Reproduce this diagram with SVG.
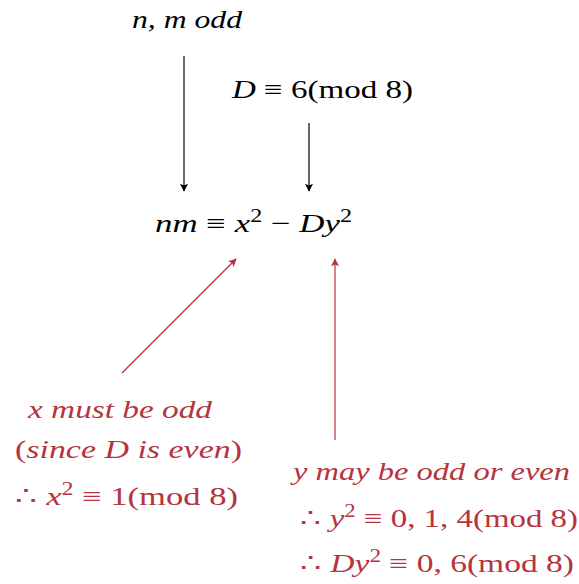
<svg xmlns="http://www.w3.org/2000/svg" width="579" height="584" viewBox="0 0 579 584">
<style>
text{font-family:"Liberation Serif","DejaVu Serif",serif;font-size:26px;}
.k{fill:#000;}
.r{fill:#b5343e;}
.i{font-style:italic;}
.sup{font-size:18px;}
.ck{stroke:#000;stroke-width:1.2;fill:none;}
.cr{stroke:#b5343e;stroke-width:1.2;fill:none;}
</style>
<defs>
<marker id="ak" viewBox="0 0 10 10" refX="9" refY="5" markerWidth="8" markerHeight="8" markerUnits="userSpaceOnUse" orient="auto"><path d="M0,0 L10,5 L0,10 L2,5 Z" fill="#000"/></marker>
<marker id="ar" viewBox="0 0 10 10" refX="9" refY="5" markerWidth="8" markerHeight="8" markerUnits="userSpaceOnUse" orient="auto"><path d="M0,0 L10,5 L0,10 L2,5 Z" fill="#b5343e"/></marker>
</defs>
<g id="connectors">
<line class="ck" x1="184" y1="56" x2="184" y2="191" marker-end="url(#ak)"/>
<line class="ck" x1="309" y1="123" x2="309" y2="191" marker-end="url(#ak)"/>
<line class="cr" x1="122" y1="373" x2="236" y2="259" marker-end="url(#ar)"/>
<line class="cr" x1="335" y1="440" x2="335" y2="259" marker-end="url(#ar)"/>
</g>
<g id="n1"><text class="k i" x="132" y="28" textLength="110" lengthAdjust="spacingAndGlyphs">n, m odd</text></g>
<g id="n2"><text class="k" x="232" y="98" textLength="181" lengthAdjust="spacingAndGlyphs"><tspan class="i">D</tspan> ≡ 6(mod 8)</text></g>
<g id="n3"><text class="k" x="155" y="232" textLength="197" lengthAdjust="spacingAndGlyphs"><tspan class="i">nm</tspan> ≡ <tspan class="i">x</tspan><tspan class="sup" dy="-10">2</tspan><tspan dy="10"> − </tspan><tspan class="i">Dy</tspan><tspan class="sup" dy="-10">2</tspan></text></g>
<g id="n4">
<text class="r i" x="28" y="418" textLength="184" lengthAdjust="spacingAndGlyphs">x must be odd</text>
<text class="r" x="15" y="458" textLength="227" lengthAdjust="spacingAndGlyphs">(<tspan class="i">since D is even</tspan>)</text>
<text class="r" x="15" y="505" textLength="223" lengthAdjust="spacingAndGlyphs">∴  <tspan class="i">x</tspan><tspan class="sup" dy="-10">2</tspan><tspan dy="10"> ≡ 1(mod 8)</tspan></text>
</g>
<g id="n5">
<text class="r i" x="293" y="480" textLength="277" lengthAdjust="spacingAndGlyphs">y may be odd or even</text>
<text class="r" x="300" y="527" textLength="278" lengthAdjust="spacingAndGlyphs">∴  <tspan class="i">y</tspan><tspan class="sup" dy="-10">2</tspan><tspan dy="10"> ≡ 0, 1, 4(mod 8)</tspan></text>
<text class="r" x="300" y="572" textLength="274" lengthAdjust="spacingAndGlyphs">∴  <tspan class="i">Dy</tspan><tspan class="sup" dy="-10">2</tspan><tspan dy="10"> ≡ 0, 6(mod 8)</tspan></text>
</g>
</svg>
